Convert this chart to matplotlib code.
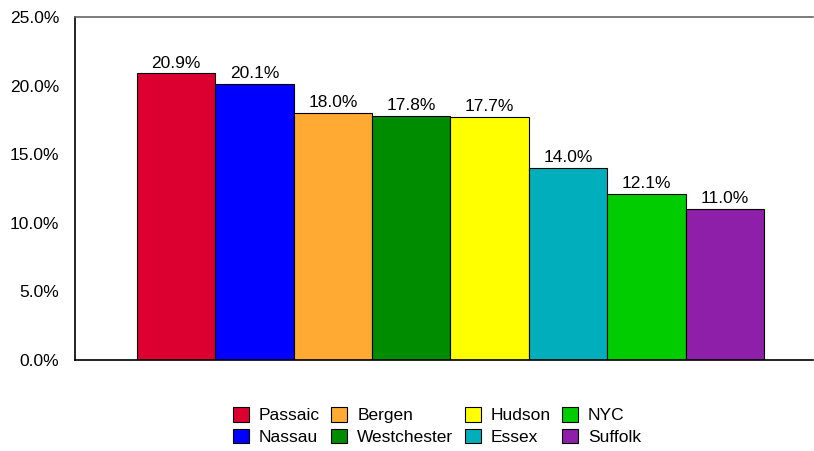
import numpy as np
import matplotlib.pyplot as plt

plt.rcParams['font.family'] = ['Liberation Sans', 'DejaVu Sans']

counties = ['Passaic', 'Nassau', 'Bergen', 'Westchester', 'Hudson', 'Essex', 'NYC', 'Suffolk']
values = [20.9, 20.1, 18.0, 17.8, 17.7, 14.0, 12.1, 11.0]
colors = ['#DC0030', '#0000FF', '#FFAA33', '#008C00', '#FFFF00', '#00AFBB', '#00CC00', '#8E1FA9']
yticks = [0, 5, 10, 15, 20, 25]

fig = plt.figure(figsize=(8.14, 4.51), dpi=100)
ax = fig.add_axes([75 / 814, 91 / 451, 738 / 814, 343 / 451])

index = np.arange(len(values))
for i in index:
    ax.bar(i, values[i], 1.0, color=colors[i], edgecolor='black', linewidth=0.8, label=counties[i])
    ax.text(i, values[i] + 0.2, '%.1f%%' % values[i], ha='center', va='bottom', fontsize=12.5)

ax.set_xlim(-1.29, 8.125)
ax.set_ylim(0, 25)
ax.set_yticks(yticks)
ax.set_yticklabels(['%.1f%%' % t for t in yticks], fontsize=12.5)
ax.set_xticks([])
ax.tick_params(axis='y', length=0, pad=11.5)
ax.spines['right'].set_visible(False)
ax.spines['top'].set_color('#666666')
ax.spines['top'].set_linewidth(1.2)
ax.spines['left'].set_linewidth(1.2)
ax.spines['bottom'].set_linewidth(1.2)

fig.legend(loc='center', bbox_to_anchor=(437 / 814, 1 - 426 / 451), ncol=4, frameon=False,
           fontsize=12.5, handlelength=0.92, handleheight=0.92, handletextpad=0.57,
           columnspacing=0.65, labelspacing=0.3, borderpad=0)

fig.savefig('out.png')
